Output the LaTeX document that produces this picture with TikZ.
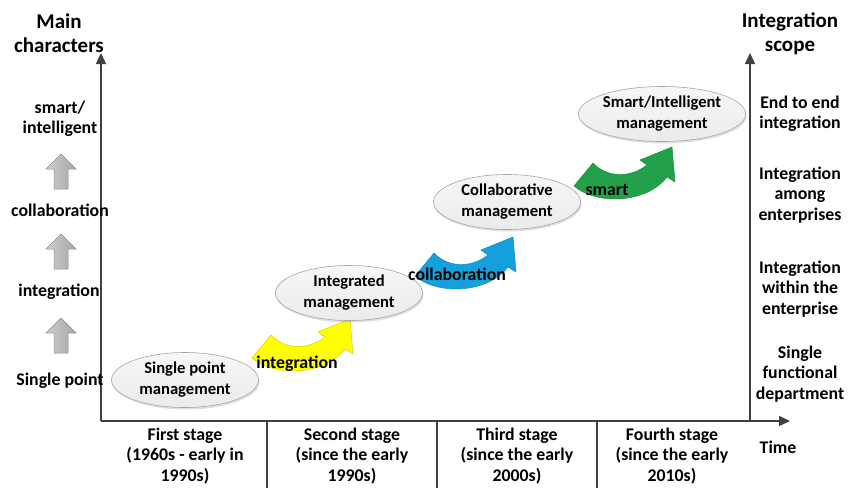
\documentclass[tikz,border=0pt]{standalone}
\usepackage{fontspec}
\setmainfont{Carlito}
\usetikzlibrary{arrows.meta,shapes.geometric,shadows}
\definecolor{axisgray}{HTML}{404040}
\definecolor{ellfill}{HTML}{EBEBEB}
\definecolor{elledge}{HTML}{A6A6A6}
\definecolor{arrowyellow}{HTML}{FFFF00}
\definecolor{arrowyellowedge}{HTML}{D2D200}
\definecolor{arrowblue}{HTML}{14A0DC}
\definecolor{arrowblueedge}{HTML}{1089C0}
\definecolor{arrowgreen}{HTML}{23A04A}
\definecolor{arrowgreenedge}{HTML}{1C8A3E}
\definecolor{blockgray}{HTML}{A6A6A6}
\definecolor{blockedge}{HTML}{8C8C8C}
\begin{document}
\begin{tikzpicture}[x=1pt,y=-1pt,
  txt/.style={font=\bfseries\fontsize{17.8}{20.5}\selectfont, align=center, inner sep=0pt},
  head/.style={font=\bfseries\fontsize{21}{24.5}\selectfont, align=center, inner sep=0pt},
  axis/.style={draw=axisgray, line width=1.4pt, -{Triangle[width=10pt,length=11pt]}},
  sepline/.style={draw=axisgray, line width=1.2pt},
  stageell/.style={ellipse, draw=elledge, line width=0.6pt, top color=ellfill!40, bottom color=ellfill,
    minimum width=147pt, minimum height=55pt, inner sep=0pt,
    font=\bfseries\fontsize{16.6}{21}\selectfont, align=center,
    drop shadow={opacity=0.25, shadow xshift=1pt, shadow yshift=-2pt}},
  bentarrow/.pic={
    \path[pic actions] (0,0) -- (19,-23)
      .. controls (32,-9) and (55,-7) .. (73,-21)
      -- (66,-26) -- (98,-39) -- (101,-4) -- (93,-9)
      .. controls (72,18) and (22,19) .. cycle;
  },
  blockup/.pic={
    \path[pic actions] (0,0) -- (15,15) -- (7,15) -- (7,35) -- (-7,35)
      -- (-7,15) -- (-15,15) -- cycle;
  },
  bentstyle/.style={line width=0.5pt, drop shadow={opacity=0.2, shadow xshift=1pt, shadow yshift=-1.5pt}},
  blockstyle/.style={left color=blockgray!55, right color=blockgray, draw=blockedge, line width=0.5pt}
]
\useasboundingbox (0,0) rectangle (856,488);

% axes
\coordinate (O) at (101,421);
\coordinate (Ytop) at (101,53);
\coordinate (Xend) at (790,421);
\coordinate (R) at (750,421);
\coordinate (Rtop) at (750,53);
\draw[axis] (O) -- (Ytop);
\draw[axis] (O) -- (Xend);
\draw[axis] (R) -- (Rtop);

% stage separators below the time axis
\foreach \sx [count=\i] in {267,437,597} {
  \coordinate (s\i top) at (\sx,421);
  \coordinate (s\i bot) at (\sx,488);
  \draw[sepline] (s\i top) -- (s\i bot);
}

% axis titles
\node[head] (ytitle) at (59,33) {Main\\characters};
\node[head] (rtitle) at (790,34) {Integration\\scope};
\node[txt] (xtitle) at (778,447) {Time};

% left column: main characters
\node[txt] (c4) at (60,119) {smart/\\intelligent};
\node[txt] (c3) at (60,210) {collaboration};
\node[txt] (c2) at (59,292) {integration};
\node[txt] (c1) at (60,381) {Single point};
\pic[blockstyle] (u3) at (61,154) {blockup};
\pic[blockstyle] (u2) at (61,234) {blockup};
\pic[blockstyle] (u1) at (61,318) {blockup};

% right column: integration scope
\node[txt] (r4) at (800,114) {End to end\\integration};
\node[txt] (r3) at (800,195) {Integration\\among\\enterprises};
\node[txt] (r2) at (800,289) {Integration\\within the\\enterprise};
\node[txt] (r1) at (800,374) {Single\\functional\\department};

% stages along the time axis
\node[txt] (t1) at (185,456) {First stage\\(1960s - early in\\1990s)};
\node[txt] (t2) at (352,456) {Second stage\\(since the early\\1990s)};
\node[txt] (t3) at (517,456) {Third stage\\(since the early\\2000s)};
\node[txt] (t4) at (672,456) {Fourth stage\\(since the early\\2010s)};

% bent transition arrows
\pic[bentstyle, fill=arrowyellow, draw=arrowyellowedge] (ya) at (252,358) {bentarrow};
\pic[bentstyle, fill=arrowblue, draw=arrowblueedge] (ba) at (415,276) {bentarrow};
\pic[bentstyle, fill=arrowgreen, draw=arrowgreenedge] (ga) at (574,186) {bentarrow};

% management stages
\node[stageell] (m1) at (185,380) {Single point\\management};
\node[stageell] (m2) at (349,293) {Integrated\\management};
\node[stageell] (m3) at (507,202) {Collaborative\\management};
\node[stageell] (m4) at (662,114) {Smart/Intelligent\\management};

% labels on the transition arrows
\node[txt] (l1) at (297,364) {integration};
\node[txt] (l2) at (457,274) {collaboration};
\node[txt] (l3) at (607,190) {smart};
\end{tikzpicture}
\end{document}
